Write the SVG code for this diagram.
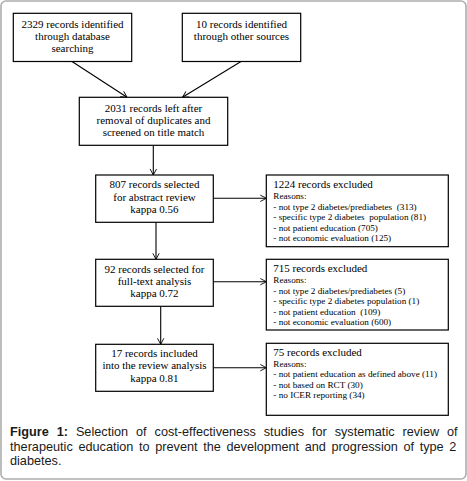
<svg xmlns="http://www.w3.org/2000/svg" width="467" height="481" viewBox="0 0 467 481">
<style>
.box{fill:#fff;stroke:#000;stroke-width:1.2}
.t{font-family:"Liberation Serif","Times New Roman",serif;font-size:11px;fill:#000;text-anchor:middle}
.h{font-family:"Liberation Serif","Times New Roman",serif;font-size:11px;fill:#000}
.r{font-family:"Liberation Serif","Times New Roman",serif;font-size:9.2px;fill:#000;white-space:pre}
.c{font-family:"Liberation Sans",Arial,sans-serif;font-size:12.7px;fill:#1a1a1a}
.ln{stroke:#000;stroke-width:1.1;fill:none}
</style>
<defs>
<marker id="ah" markerWidth="8" markerHeight="8" refX="7" refY="4" orient="auto" markerUnits="userSpaceOnUse">
<path d="M1,0.8 L7,4 L1,7.2" fill="none" stroke="#000" stroke-width="0.9"/>
</marker>
</defs>
<rect x="1" y="1" width="465" height="478" rx="5" fill="#fff" stroke="#adadad" stroke-width="1.6"/>

<g id="connectors">
<line class="ln" x1="72" y1="61.5" x2="127" y2="97.3" marker-end="url(#ah)" stroke-width="0.8"/>
<line class="ln" x1="241" y1="61.5" x2="182.5" y2="97.3" marker-end="url(#ah)" stroke-width="0.8"/>
<line class="ln" x1="153.3" y1="145.3" x2="153.3" y2="175" marker-end="url(#ah)"/>
<line class="ln" x1="156" y1="222.3" x2="156" y2="259.3" marker-end="url(#ah)"/>
<line class="ln" x1="160.7" y1="306.3" x2="160.7" y2="344.3" marker-end="url(#ah)"/>
<line class="ln" x1="213.3" y1="198.3" x2="266.3" y2="198.3" marker-end="url(#ah)"/>
<line class="ln" x1="213.3" y1="281.7" x2="266.3" y2="281.7" marker-end="url(#ah)"/>
<line class="ln" x1="213.3" y1="367.7" x2="266.3" y2="367.7" marker-end="url(#ah)"/>
</g>

<g id="n1">
<rect class="box" x="13.3" y="13.3" width="118.4" height="48.2"/>
<text class="t" x="72.5" y="27.5">2329 records identified</text>
<text class="t" x="72.5" y="39.5">through database</text>
<text class="t" x="72.5" y="51.5">searching</text>
</g>
<g id="n2">
<rect class="box" x="182.3" y="13.3" width="118.4" height="48.2"/>
<text class="t" x="241.5" y="27.5">10 records identified</text>
<text class="t" x="241.5" y="39.5">through other sources</text>
</g>
<g id="n3">
<rect class="box" x="79.3" y="97.3" width="148.4" height="48"/>
<text class="t" x="153.5" y="111.5">2031 records left after</text>
<text class="t" x="153.5" y="123.5">removal of duplicates and</text>
<text class="t" x="153.5" y="135.7">screened on title match</text>
</g>
<g id="n4">
<rect class="box" x="95.7" y="175" width="117.6" height="47.3"/>
<text class="t" x="154.5" y="188.3">807 records selected</text>
<text class="t" x="154.5" y="200.5">for abstract review</text>
<text class="t" x="154.5" y="212.7">kappa 0.56</text>
</g>
<g id="n5">
<rect class="box" x="266.3" y="175" width="182" height="71.7"/>
<text class="h" x="273.3" y="188">1224 records excluded</text>
<text class="r" x="273.3" y="199">Reasons:</text>
<text class="r" x="273.3" y="209.5" xml:space="preserve">- not type 2 diabetes/prediabetes  (313)</text>
<text class="r" x="273.3" y="220" xml:space="preserve">- specific type 2 diabetes  population (81)</text>
<text class="r" x="273.3" y="230.5">- not patient education (705)</text>
<text class="r" x="273.3" y="241">- not economic evaluation (125)</text>
</g>
<g id="n6">
<rect class="box" x="95.7" y="259.3" width="117.6" height="47"/>
<text class="t" x="154.5" y="272.5">92 records selected for</text>
<text class="t" x="154.5" y="284.5">full-text analysis</text>
<text class="t" x="154.5" y="296.8">kappa 0.72</text>
</g>
<g id="n7">
<rect class="box" x="266.3" y="259.3" width="182" height="70.7"/>
<text class="h" x="273.3" y="272.3">715 records excluded</text>
<text class="r" x="273.3" y="283">Reasons:</text>
<text class="r" x="273.3" y="293.5">- not type 2 diabetes/prediabetes (5)</text>
<text class="r" x="273.3" y="304">- specific type 2 diabetes population (1)</text>
<text class="r" x="273.3" y="314.5" xml:space="preserve">- not patient education  (109)</text>
<text class="r" x="273.3" y="325">- not economic evaluation (600)</text>
</g>
<g id="n8">
<rect class="box" x="95.7" y="344.3" width="117.6" height="47"/>
<text class="t" x="154.5" y="356.7">17 records included</text>
<text class="t" x="154.5" y="369">into the review analysis</text>
<text class="t" x="154.5" y="382.3">kappa 0.81</text>
</g>
<g id="n9">
<rect class="box" x="266.3" y="343.3" width="182" height="72"/>
<text class="h" x="273.3" y="356.3">75 records excluded</text>
<text class="r" x="273.3" y="366.5">Reasons:</text>
<text class="r" x="273.3" y="377">- not patient education as defined above (11)</text>
<text class="r" x="273.3" y="387.7">- not based on RCT (30)</text>
<text class="r" x="273.3" y="398.3">- no ICER reporting (34)</text>
</g>

<g id="caption">
<text class="c" x="10" y="435.7" word-spacing="4.4"><tspan font-weight="bold">Figure 1:</tspan> Selection of cost-effectiveness studies for systematic review of</text>
<text class="c" x="10" y="450.5" word-spacing="2.1">therapeutic education to prevent the development and progression of type 2</text>
<text class="c" x="10" y="465">diabetes.</text>
</g>
</svg>
